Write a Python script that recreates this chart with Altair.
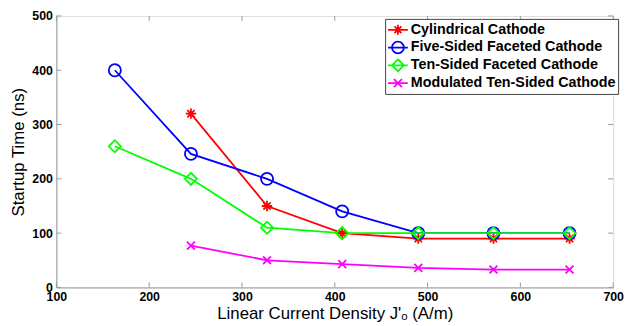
import altair as alt
import pandas as pd

# ---- data ----
x_vals = [163, 245, 327, 408, 490, 571, 653]
series_names = [
    "Cylindrical Cathode",
    "Five-Sided Faceted Cathode",
    "Ten-Sided Faceted Cathode",
    "Modulated Ten-Sided Cathode",
]
cylindrical = [None, 320, 150, 100, 90, 90, 90]
five_sided = [400, 246, 200, 140, 100, 100, 100]
ten_sided = [260, 200, 110, 100, 100, 100, 100]
modulated = [None, 77, 50, 43, 36, 33, 33]
colors = ["#ff0000", "#0000ff", "#00ff00", "#ff00ff"]
x_ticks = [100, 200, 300, 400, 500, 600, 700]
y_ticks = [0, 100, 200, 300, 400, 500]

# marker shapes (plot) and legend symbols (line + marker)
marker_paths = [
    "M-1,0L1,0M0,-1L0,1M-0.7,-0.7L0.7,0.7M-0.7,0.7L0.7,-0.7",
    "circle",
    "diamond",
    "M-1,-1L1,1M-1,1L1,-1",
]
legend_paths = [
    "M-1,0L1,0M-0.5,0L0.5,0M0,-0.5L0,0.5M-0.35,-0.35L0.35,0.35M-0.35,0.35L0.35,-0.35",
    "M-1,0L1,0M-0.6,0A0.6,0.6 0 1,0 0.6,0A0.6,0.6 0 1,0 -0.6,0",
    "M-1,0L1,0M0,-0.6L0.6,0L0,0.6L-0.6,0Z",
    "M-1,0L1,0M-0.4,-0.4L0.4,0.4M-0.4,0.4L0.4,-0.4",
]
marker_sizes = [110, 150, 150, 64]

rows = []
for s_i, (name, vals) in enumerate(zip(series_names, [cylindrical, five_sided, ten_sided, modulated])):
    for xv, yv in zip(x_vals, vals):
        if yv is not None:
            rows.append({"series": name, "order": s_i, "x": xv, "y": yv, "msize": marker_sizes[s_i]})
df = pd.DataFrame(rows)
df_xt = pd.DataFrame({"v": x_ticks})
df_yt = pd.DataFrame({"v": y_ticks})

W, H = 564, 275
FONT = "Liberation Sans"
AXC = "#999999"

xscale = alt.Scale(domain=[100, 700], nice=False, zero=False)
yscale = alt.Scale(domain=[0, 500], nice=False)

x_enc = alt.X(
    "x:Q", scale=xscale,
    axis=alt.Axis(values=x_ticks, grid=False, tickSize=0, labelPadding=3,
                  labelFont=FONT, labelFontWeight="bold", labelFontSize=12.5, labelColor="black",
                  domainColor=AXC, title="Linear Current Density J'\u2092 (A/m)",
                  titleFont=FONT, titleFontSize=17, titleFontWeight="normal", titleColor="black",
                  titlePadding=3, labelFlush=False),
)
y_enc = alt.Y(
    "y:Q", scale=yscale,
    axis=alt.Axis(values=y_ticks, grid=False, tickSize=0, labelPadding=4,
                  labelFont=FONT, labelFontWeight="bold", labelFontSize=12.5, labelColor="black",
                  domainColor=AXC, title="Startup Time (ns)",
                  titleFont=FONT, titleFontSize=17, titleFontWeight="normal", titleColor="black",
                  titlePadding=4),
)

color_scale = alt.Scale(domain=series_names, range=colors)

lines = alt.Chart(df).mark_line(strokeWidth=1.8).encode(
    x=x_enc, y=y_enc,
    color=alt.Color("series:N", scale=color_scale, legend=None),
    detail="series:N",
    order="x:Q",
)

points = alt.Chart(df).mark_point(filled=False, strokeWidth=1.8, opacity=1).encode(
    x="x:Q", y="y:Q",
    color=alt.Color("series:N", scale=color_scale, legend=None),
    shape=alt.Shape("series:N", scale=alt.Scale(domain=series_names, range=marker_paths), legend=None),
    size=alt.Size("msize:Q", scale=None, legend=None),
)

legend_cfg = dict(
    orient="none", legendX=333, legendY=3, title=None,
    strokeColor="#444444", fillColor="white", padding=2,
    labelFont=FONT, labelFontWeight="bold", labelFontSize=14.5, labelColor="black",
    symbolSize=400, symbolStrokeWidth=1.8, labelOffset=2, rowPadding=0, labelLimit=0,
    clipHeight=18,
)
legend_layer = alt.Chart(df).mark_point(filled=False, opacity=0).encode(
    x="x:Q", y="y:Q",
    color=alt.Color("series:N", scale=alt.Scale(domain=series_names, range=colors),
                    legend=alt.Legend(**legend_cfg), sort=series_names),
    shape=alt.Shape("series:N", scale=alt.Scale(domain=series_names, range=legend_paths),
                    legend=alt.Legend(**legend_cfg), sort=series_names),
)

tick_len = 5
xt_bottom = alt.Chart(df_xt).mark_rule(color=AXC).encode(x=alt.X("v:Q", scale=xscale), y=alt.value(H), y2=alt.value(H - tick_len))
xt_top = alt.Chart(df_xt).mark_rule(color=AXC).encode(x=alt.X("v:Q", scale=xscale), y=alt.value(0), y2=alt.value(tick_len))
yt_left = alt.Chart(df_yt).mark_rule(color=AXC).encode(y=alt.Y("v:Q", scale=yscale), x=alt.value(0), x2=alt.value(tick_len))
yt_right = alt.Chart(df_yt).mark_rule(color=AXC).encode(y=alt.Y("v:Q", scale=yscale), x=alt.value(W), x2=alt.value(W - tick_len))

chart = (
    alt.layer(xt_bottom, xt_top, yt_left, yt_right, lines, points, legend_layer)
    .resolve_scale(shape="independent", color="independent")
    .properties(width=W, height=H, autosize="none",
                padding={"left": 49, "top": 6, "right": 13, "bottom": 36})
    .configure_view(stroke=AXC, strokeWidth=1)
    .configure(background="white")
)

chart.save("out.html", embed_options={"renderer": "svg", "actions": False})
